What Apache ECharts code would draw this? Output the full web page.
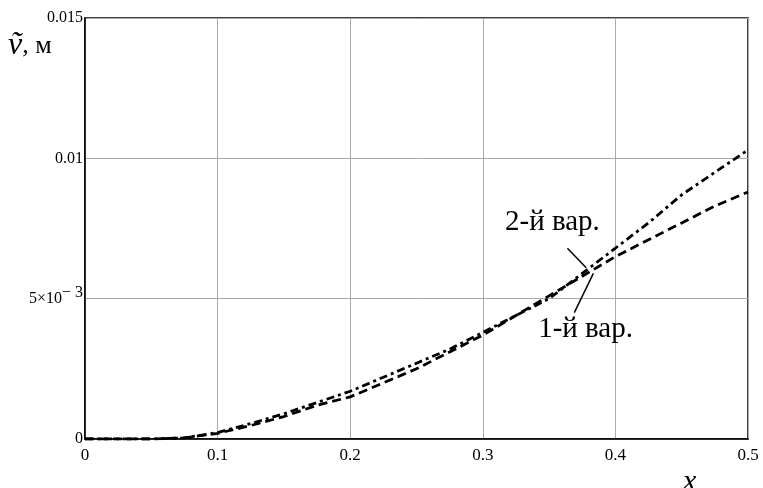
<!DOCTYPE html>
<html>
<head>
<meta charset="utf-8">
<script src="https://cdn.jsdelivr.net/npm/echarts@6/dist/echarts.min.js"></script>
<style>
  html, body { margin: 0; padding: 0; background: #fff; }
  #chart { width: 763px; height: 488px; }
</style>
</head>
<body>
<div id="chart"></div>
<script>
// x grid and both variants
const xs = [0, 0.025, 0.05, 0.075, 0.1, 0.125, 0.15, 0.175, 0.2, 0.225, 0.25, 0.275, 0.3, 0.325, 0.35, 0.375, 0.4, 0.425, 0.45, 0.475, 0.5]
const var1 = [0, 0, 0, 0.00004, 0.0002, 0.00048, 0.0008, 0.0012, 0.0015, 0.002, 0.0025, 0.0031, 0.0037, 0.0044, 0.0051, 0.0058, 0.0065, 0.0071, 0.0077, 0.0083, 0.0088]
const var2 = [0, 0, 0, 0.00004, 0.00023, 0.00055, 0.0009, 0.0013, 0.0017, 0.0022, 0.0027, 0.0032, 0.0038, 0.0044, 0.005, 0.0059, 0.0068, 0.0077, 0.0087, 0.0095, 0.0103]

const yTicks = { 0: '0', 0.005: '5×10{sup|− 3}', 0.01: '0.01', 0.015: '0.015' }

// labels with leader lines (data coords)
const notes = [
  { text: '2-й вар.', at: [0.3525, 0.0077], from: [0.3638, 0.0068], to: [0.378, 0.0061] },
  { text: '1-й вар.', at: [0.3775, 0.0039], from: [0.3834, 0.0059], to: [0.369, 0.0045] },
]

const font = '"Liberation Serif", "DejaVu Serif", serif'
const chart = echarts.init(document.getElementById('chart'))

const zip = (a) => xs.map((x, i) => [x, a[i]])

chart.setOption({
  animation: false,
  grid: { left: 85, right: 15, top: 18, bottom: 49, show: true, borderColor: '#000', borderWidth: 1.5 },
  xAxis: {
    type: 'value', min: 0, max: 0.5, interval: 0.1,
    axisLine: { lineStyle: { color: '#000', width: 1.5 } },
    axisTick: { show: false },
    splitLine: { lineStyle: { color: '#aaa', width: 1 } },
    axisLabel: { color: '#000', fontFamily: font, fontSize: 17, margin: 8 },
  },
  yAxis: {
    type: 'value', min: 0, max: 0.015, interval: 0.005,
    axisLine: { lineStyle: { color: '#000', width: 1.5 } },
    axisTick: { show: false },
    splitLine: { lineStyle: { color: '#aaa', width: 1 } },
    axisLabel: {
      color: '#000', fontFamily: font, fontSize: 16, margin: 2,
      formatter: (v) => yTicks[+v.toFixed(3)] ?? '',
      rich: { sup: { fontFamily: font, fontSize: 16, color: '#000', padding: [0, 0, 12, 0] } },
    },
  },
  graphic: [
    {
      type: 'text', left: 8, top: 30,
      style: {
        text: '{v|ṽ}, м', fontFamily: font, fontSize: 26, fill: '#000',
        rich: { v: { fontFamily: font, fontStyle: 'italic', fontSize: 32, fill: '#000' } },
      },
    },
    {
      type: 'text', left: 683, top: 467,
      style: { text: 'x', fontFamily: font, fontStyle: 'italic', fontSize: 30, fill: '#000' },
    },
  ],
  series: [
    {
      name: '1-й вар.', type: 'line', data: zip(var1), showSymbol: false,
      lineStyle: { color: '#000', width: 2.8, type: [9, 5] },
    },
    {
      name: '2-й вар.', type: 'line', data: zip(var2), showSymbol: false,
      lineStyle: { color: '#000', width: 2.8, type: [8, 4, 3, 4] },
    },
    {
      name: 'notes', type: 'line', data: [], silent: true,
      markLine: {
        symbol: 'none', silent: true, label: { show: false },
        lineStyle: { color: '#000', width: 1.5, type: 'solid' },
        data: notes.map(n => [{ coord: n.from }, { coord: n.to }]),
      },
      markPoint: {
        symbol: 'circle', symbolSize: 0, silent: true,
        label: { show: true, position: 'inside', fontFamily: font, fontSize: 29, color: '#000', formatter: (p) => p.name },
        data: notes.map(n => ({ name: n.text, coord: n.at })),
      },
    },
  ],
})
</script>
</body>
</html>
